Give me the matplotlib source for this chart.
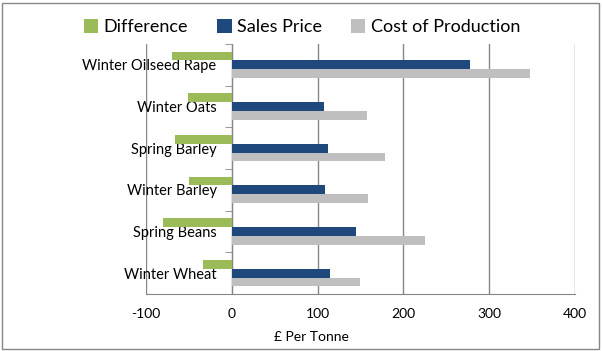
import numpy as np
import matplotlib.pyplot as plt
from matplotlib.patches import Rectangle

# Dati (dal basso verso l'alto)
colture = ["Winter Wheat", "Spring Beans", "Winter Barley",
           "Spring Barley", "Winter Oats", "Winter Oilseed Rape"]
differenza = [-34, -80, -50, -66, -51, -70]
prezzo_vendita = [115, 145, 109, 112, 107, 278]
costo_produzione = [149, 225, 159, 179, 158, 348]

serie = ["Difference", "Sales Price", "Cost of Production"]
colori = ["#9BBB59", "#1F497D", "#BFBFBF"]

plt.rcParams['font.family'] = ['Lato', 'DejaVu Sans']
plt.rcParams['axes.unicode_minus'] = False

fig = plt.figure(figsize=(6.02, 3.51), dpi=100)
ax = fig.add_axes([146/602, 1-294/351, (575-146)/602, (294-44)/351])

y = np.arange(len(colture))
h = 0.213
for i, (vals, col) in enumerate(zip([differenza, prezzo_vendita, costo_produzione], colori)):
    ax.barh(y + h*(1 - i), vals, height=h, color=col, label=serie[i], zorder=3)

ax.set_xlim(-100, 400)
ax.set_ylim(-0.5, len(colture) - 0.5)
ax.set_xticks([-100, 0, 100, 200, 300, 400])
ax.tick_params(axis='x', length=0, pad=10, labelsize=10)
ax.grid(axis='x', color='#868686', linewidth=1, zorder=0)

# asse verticale sullo zero
ax.spines['left'].set_position(('data', 0))
ax.spines['left'].set_color('#868686')
ax.spines['bottom'].set_color('#868686')
ax.spines['top'].set_visible(False)
ax.spines['right'].set_visible(False)
ax.set_yticks(y)
ax.set_yticklabels(colture)
ax.set_yticks(np.arange(-0.5, len(colture), 1), minor=True)
ax.tick_params(axis='y', which='major', length=0, pad=11, labelsize=10.5)
ax.tick_params(axis='y', which='minor', length=5, color='#868686', direction='out')

fig.text(311/602, 1-337/351, "£ Per Tonne", ha='center', va='center', fontsize=10)

fig.legend(loc='center', bbox_to_anchor=(302/602, 1-27/351), ncol=3, frameon=False,
           fontsize=13, handlelength=0.8, handleheight=0.8, handletextpad=0.3,
           columnspacing=1.6)

fig.patches.append(Rectangle((2/602, 2/351), 597/602, 346/351, transform=fig.transFigure,
                             fill=False, edgecolor='#868686', linewidth=1))

fig.savefig("out.png", dpi=100)
